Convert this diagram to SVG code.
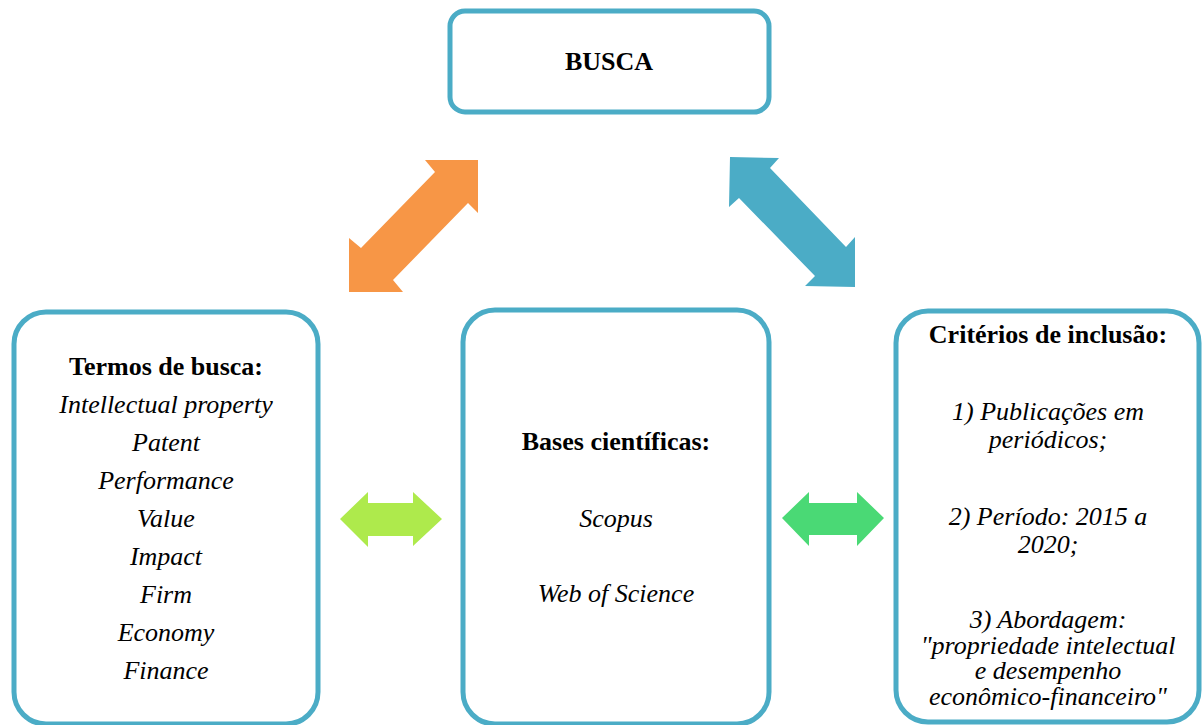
<svg xmlns="http://www.w3.org/2000/svg" width="1202" height="725" viewBox="0 0 1202 725">
  <style>
    .box { fill: #FFFFFF; stroke: #4BACC6; stroke-width: 5; }
    .t { font-family: "Liberation Serif", "Times New Roman", serif; font-size: 26px; fill: #000000; text-anchor: middle; }
    .b { font-weight: bold; }
    .i { font-style: italic; }
  </style>
  <rect width="1202" height="725" fill="#FFFFFF"/>

  <!-- connectors: block double arrows -->
  <g id="connectors">
    <polygon id="arrow-termos-busca" fill="#F79646"
      points="478,160 478,213 468,203 393,280 403,292 349,292 349,238 361,248 435,172 425,160"/>
    <polygon id="arrow-busca-criterios" fill="#4BACC6"
      points="730,157 779,158 770,168 846,247 855,237 855,287 805,286 815,276 739,198 729,207"/>
    <polygon id="arrow-termos-bases" fill="#AEEA4C"
      points="340,519 368,492 368,503 413,503 413,492 442,519 413,546 413,536 368,536 368,547"/>
    <polygon id="arrow-bases-criterios" fill="#4AD975"
      points="782,518 809,492 809,503 857,503 857,492 884,518 857,546 857,535 809,535 809,546"/>
  </g>

  <!-- top node -->
  <g id="busca">
    <rect class="box" x="450" y="11" width="319" height="101" rx="15" ry="15"/>
    <text class="t b" x="609" y="70">BUSCA</text>
  </g>

  <!-- search terms -->
  <g id="termos">
    <rect class="box" x="14" y="312" width="304" height="412" rx="32" ry="32"/>
    <text class="t b" x="166" y="375">Termos de busca:</text>
    <text class="t i" x="166" y="413">Intellectual property</text>
    <text class="t i" x="166" y="451">Patent</text>
    <text class="t i" x="166" y="489">Performance</text>
    <text class="t i" x="166" y="527">Value</text>
    <text class="t i" x="166" y="565">Impact</text>
    <text class="t i" x="166" y="603">Firm</text>
    <text class="t i" x="166" y="641">Economy</text>
    <text class="t i" x="166" y="679">Finance</text>
  </g>

  <!-- databases -->
  <g id="bases">
    <rect class="box" x="463" y="310" width="306" height="414" rx="32" ry="32"/>
    <text class="t b" x="616" y="450">Bases científicas:</text>
    <text class="t i" x="616" y="527">Scopus</text>
    <text class="t i" x="616" y="602">Web of Science</text>
  </g>

  <!-- inclusion criteria -->
  <g id="criterios">
    <rect class="box" x="896" y="311" width="303" height="411" rx="32" ry="32"/>
    <text class="t b" x="1048" y="343">Critérios de inclusão:</text>
    <text class="t i" x="1048" y="420">1) Publicações em</text>
    <text class="t i" x="1048" y="448">periódicos;</text>
    <text class="t i" x="1048" y="525">2) Período: 2015 a</text>
    <text class="t i" x="1048" y="553">2020;</text>
    <text class="t i" x="1048" y="628">3) Abordagem:</text>
    <text class="t i" x="1048" y="654">"propriedade intelectual</text>
    <text class="t i" x="1048" y="679">e desempenho</text>
    <text class="t i" x="1048" y="705">econômico-financeiro"</text>
  </g>
</svg>
